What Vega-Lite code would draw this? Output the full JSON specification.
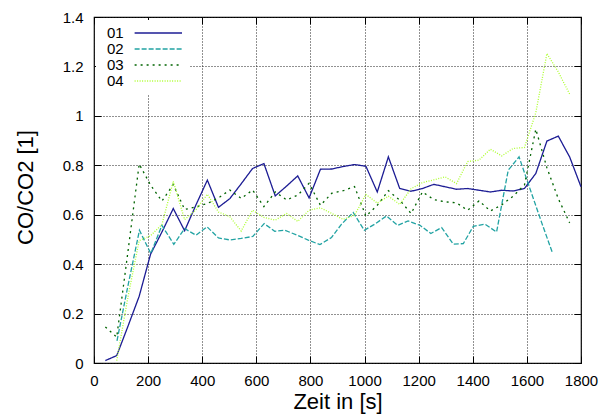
{
  "$schema": "https://vega.github.io/schema/vega-lite/v6.json",
  "width": 487,
  "height": 346,
  "autosize": {"type": "none"},
  "padding": {"left": 94, "top": 17, "right": 21, "bottom": 52},
  "background": "white",
  "config": {
    "font": "Liberation Sans",
    "view": {"stroke": "#000", "strokeWidth": 1.2},
    "axis": {
      "domain": false,
      "tickColor": "#000",
      "tickWidth": 1,
      "tickSize": -7,
      "labelFont": "Liberation Sans",
      "labelFontSize": 15,
      "labelColor": "#000",
      "labelFlush": false,
      "labelOverlap": false,
      "titleFont": "Liberation Sans",
      "titleFontSize": 22,
      "titleFontWeight": "normal",
      "titleColor": "#000"
    }
  },
  "data": {
    "values": [
      {"s": "01", "t": 42, "v": 0.01}, {"s": "01", "t": 84, "v": 0.03}, {"s": "01", "t": 126, "v": 0.15}, {"s": "01", "t": 167, "v": 0.27},
      {"s": "01", "t": 209, "v": 0.44}, {"s": "01", "t": 251, "v": 0.53}, {"s": "01", "t": 293, "v": 0.625}, {"s": "01", "t": 335, "v": 0.535},
      {"s": "01", "t": 377, "v": 0.64}, {"s": "01", "t": 419, "v": 0.74}, {"s": "01", "t": 460, "v": 0.63}, {"s": "01", "t": 502, "v": 0.665},
      {"s": "01", "t": 544, "v": 0.725}, {"s": "01", "t": 586, "v": 0.787}, {"s": "01", "t": 628, "v": 0.807}, {"s": "01", "t": 670, "v": 0.676},
      {"s": "01", "t": 712, "v": 0.716}, {"s": "01", "t": 753, "v": 0.757}, {"s": "01", "t": 795, "v": 0.668}, {"s": "01", "t": 837, "v": 0.784},
      {"s": "01", "t": 879, "v": 0.785}, {"s": "01", "t": 921, "v": 0.795}, {"s": "01", "t": 963, "v": 0.803}, {"s": "01", "t": 1005, "v": 0.796},
      {"s": "01", "t": 1047, "v": 0.692}, {"s": "01", "t": 1088, "v": 0.834}, {"s": "01", "t": 1130, "v": 0.706}, {"s": "01", "t": 1172, "v": 0.695},
      {"s": "01", "t": 1214, "v": 0.706}, {"s": "01", "t": 1256, "v": 0.723}, {"s": "01", "t": 1298, "v": 0.713}, {"s": "01", "t": 1340, "v": 0.703},
      {"s": "01", "t": 1381, "v": 0.706}, {"s": "01", "t": 1423, "v": 0.699}, {"s": "01", "t": 1465, "v": 0.692}, {"s": "01", "t": 1507, "v": 0.699},
      {"s": "01", "t": 1549, "v": 0.696}, {"s": "01", "t": 1591, "v": 0.706}, {"s": "01", "t": 1633, "v": 0.767}, {"s": "01", "t": 1674, "v": 0.898},
      {"s": "01", "t": 1716, "v": 0.918}, {"s": "01", "t": 1758, "v": 0.834}, {"s": "01", "t": 1800, "v": 0.713},

      {"s": "02", "t": 85, "v": 0.09}, {"s": "02", "t": 125, "v": 0.31}, {"s": "02", "t": 168, "v": 0.537}, {"s": "02", "t": 210, "v": 0.443},
      {"s": "02", "t": 251, "v": 0.557}, {"s": "02", "t": 295, "v": 0.48}, {"s": "02", "t": 335, "v": 0.544}, {"s": "02", "t": 377, "v": 0.517},
      {"s": "02", "t": 418, "v": 0.551}, {"s": "02", "t": 460, "v": 0.506}, {"s": "02", "t": 502, "v": 0.498}, {"s": "02", "t": 544, "v": 0.504},
      {"s": "02", "t": 587, "v": 0.512}, {"s": "02", "t": 629, "v": 0.564}, {"s": "02", "t": 668, "v": 0.533}, {"s": "02", "t": 705, "v": 0.537},
      {"s": "02", "t": 752, "v": 0.517}, {"s": "02", "t": 792, "v": 0.497}, {"s": "02", "t": 835, "v": 0.479}, {"s": "02", "t": 878, "v": 0.508},
      {"s": "02", "t": 915, "v": 0.562}, {"s": "02", "t": 958, "v": 0.609}, {"s": "02", "t": 999, "v": 0.537}, {"s": "02", "t": 1038, "v": 0.562},
      {"s": "02", "t": 1081, "v": 0.595}, {"s": "02", "t": 1122, "v": 0.557}, {"s": "02", "t": 1161, "v": 0.575}, {"s": "02", "t": 1205, "v": 0.557},
      {"s": "02", "t": 1245, "v": 0.524}, {"s": "02", "t": 1285, "v": 0.548}, {"s": "02", "t": 1328, "v": 0.481}, {"s": "02", "t": 1365, "v": 0.483},
      {"s": "02", "t": 1402, "v": 0.553}, {"s": "02", "t": 1445, "v": 0.562}, {"s": "02", "t": 1488, "v": 0.53}, {"s": "02", "t": 1531, "v": 0.78},
      {"s": "02", "t": 1571, "v": 0.834}, {"s": "02", "t": 1613, "v": 0.70}, {"s": "02", "t": 1654, "v": 0.57}, {"s": "02", "t": 1694, "v": 0.447},

      {"s": "03", "t": 42, "v": 0.146}, {"s": "03", "t": 84, "v": 0.105}, {"s": "03", "t": 126, "v": 0.455}, {"s": "03", "t": 167, "v": 0.805},
      {"s": "03", "t": 209, "v": 0.72}, {"s": "03", "t": 251, "v": 0.655}, {"s": "03", "t": 293, "v": 0.722}, {"s": "03", "t": 335, "v": 0.621},
      {"s": "03", "t": 377, "v": 0.632}, {"s": "03", "t": 419, "v": 0.645}, {"s": "03", "t": 460, "v": 0.668}, {"s": "03", "t": 502, "v": 0.70},
      {"s": "03", "t": 544, "v": 0.666}, {"s": "03", "t": 586, "v": 0.70}, {"s": "03", "t": 628, "v": 0.633}, {"s": "03", "t": 670, "v": 0.692},
      {"s": "03", "t": 712, "v": 0.66}, {"s": "03", "t": 753, "v": 0.679}, {"s": "03", "t": 795, "v": 0.727}, {"s": "03", "t": 837, "v": 0.638},
      {"s": "03", "t": 879, "v": 0.687}, {"s": "03", "t": 921, "v": 0.697}, {"s": "03", "t": 963, "v": 0.714}, {"s": "03", "t": 1005, "v": 0.594},
      {"s": "03", "t": 1047, "v": 0.638}, {"s": "03", "t": 1088, "v": 0.697}, {"s": "03", "t": 1130, "v": 0.659}, {"s": "03", "t": 1172, "v": 0.605},
      {"s": "03", "t": 1214, "v": 0.692}, {"s": "03", "t": 1256, "v": 0.661}, {"s": "03", "t": 1298, "v": 0.652}, {"s": "03", "t": 1340, "v": 0.648},
      {"s": "03", "t": 1381, "v": 0.618}, {"s": "03", "t": 1423, "v": 0.656}, {"s": "03", "t": 1465, "v": 0.615}, {"s": "03", "t": 1507, "v": 0.64},
      {"s": "03", "t": 1549, "v": 0.675}, {"s": "03", "t": 1591, "v": 0.72}, {"s": "03", "t": 1633, "v": 0.946}, {"s": "03", "t": 1674, "v": 0.79},
      {"s": "03", "t": 1716, "v": 0.665}, {"s": "03", "t": 1758, "v": 0.567},

      {"s": "04", "t": 84, "v": 0.01}, {"s": "04", "t": 126, "v": 0.27}, {"s": "04", "t": 167, "v": 0.495}, {"s": "04", "t": 209, "v": 0.515},
      {"s": "04", "t": 251, "v": 0.56}, {"s": "04", "t": 293, "v": 0.735}, {"s": "04", "t": 335, "v": 0.58}, {"s": "04", "t": 377, "v": 0.62},
      {"s": "04", "t": 419, "v": 0.683}, {"s": "04", "t": 460, "v": 0.611}, {"s": "04", "t": 502, "v": 0.592}, {"s": "04", "t": 544, "v": 0.534},
      {"s": "04", "t": 586, "v": 0.618}, {"s": "04", "t": 628, "v": 0.589}, {"s": "04", "t": 670, "v": 0.578}, {"s": "04", "t": 712, "v": 0.605},
      {"s": "04", "t": 753, "v": 0.573}, {"s": "04", "t": 795, "v": 0.618}, {"s": "04", "t": 837, "v": 0.628}, {"s": "04", "t": 879, "v": 0.605},
      {"s": "04", "t": 921, "v": 0.581}, {"s": "04", "t": 963, "v": 0.598}, {"s": "04", "t": 1005, "v": 0.682}, {"s": "04", "t": 1047, "v": 0.647},
      {"s": "04", "t": 1088, "v": 0.675}, {"s": "04", "t": 1130, "v": 0.642}, {"s": "04", "t": 1172, "v": 0.705}, {"s": "04", "t": 1214, "v": 0.73},
      {"s": "04", "t": 1256, "v": 0.741}, {"s": "04", "t": 1298, "v": 0.753}, {"s": "04", "t": 1340, "v": 0.726}, {"s": "04", "t": 1381, "v": 0.815},
      {"s": "04", "t": 1423, "v": 0.821}, {"s": "04", "t": 1465, "v": 0.865}, {"s": "04", "t": 1507, "v": 0.838}, {"s": "04", "t": 1549, "v": 0.868},
      {"s": "04", "t": 1591, "v": 0.872}, {"s": "04", "t": 1633, "v": 1.013}, {"s": "04", "t": 1674, "v": 1.252}, {"s": "04", "t": 1716, "v": 1.178},
      {"s": "04", "t": 1758, "v": 1.088}
    ]
  },
  "layer": [
    {
      "mark": {"type": "line", "strokeWidth": 1.3},
      "encoding": {
        "x": {
          "field": "t", "type": "quantitative",
          "scale": {"domain": [0, 1800], "nice": false, "zero": false},
          "axis": {
            "orient": "bottom",
            "values": [0, 200, 400, 600, 800, 1000, 1200, 1400, 1600, 1800],
            "format": "d",
            "labelPadding": 17,
            "grid": true, "gridColor": "#222", "gridDash": [1, 2], "gridWidth": 1,
            "title": "Zeit in [s]",
            "titleBaseline": "alphabetic",
            "titleY": 45
          }
        },
        "y": {
          "field": "v", "type": "quantitative",
          "scale": {"domain": [0, 1.4], "nice": false, "zero": false},
          "axis": {
            "orient": "left",
            "values": [0, 0.2, 0.4, 0.6, 0.8, 1, 1.2, 1.4],
            "format": ".1~f",
            "labelPadding": 18,
            "grid": true, "gridColor": "#222", "gridDash": [1, 2], "gridWidth": 1,
            "title": "CO/CO2 [1]",
            "titleAngle": 270,
            "titleAlign": "center",
            "titleBaseline": "alphabetic",
            "titleX": -62,
            "titleY": 170
          }
        },
        "color": {
          "field": "s", "type": "nominal",
          "scale": {"domain": ["01", "02", "03", "04"], "range": ["#1c1c94", "#22a3a3", "#006400", "#adff2f"]},
          "legend": {
            "orient": "none", "legendX": 2, "legendY": 3, "direction": "vertical", "title": null,
            "symbolType": "M3.66,0H10.43", "symbolSize": 196, "symbolStrokeWidth": 1.3,
            "labelAlign": "left", "labelOffset": -10, "labelFontSize": 15, "labelFont": "Liberation Sans", "labelColor": "#000",
            "fillColor": "white", "padding": 5, "rowPadding": 0
          }
        },
        "strokeDash": {
          "field": "s", "type": "nominal",
          "scale": {"domain": ["01", "02", "03", "04"], "range": [[1, 0], [5, 2], [2, 4], [1, 1.5]]},
          "legend": {
            "orient": "none", "legendX": 2, "legendY": 3, "direction": "vertical", "title": null,
            "symbolType": "M3.66,0H10.43", "symbolSize": 196, "symbolStrokeWidth": 1.3,
            "labelAlign": "left", "labelOffset": -10, "labelFontSize": 15, "labelFont": "Liberation Sans", "labelColor": "#000",
            "fillColor": "white", "padding": 5, "rowPadding": 0
          }
        }
      }
    },
    {
      "mark": {"type": "point", "opacity": 0},
      "encoding": {
        "x": {
          "field": "t", "type": "quantitative",
          "axis": {"orient": "top", "values": [0, 200, 400, 600, 800, 1000, 1200, 1400, 1600, 1800], "labels": false, "grid": false, "title": null}
        },
        "y": {
          "field": "v", "type": "quantitative",
          "axis": {"orient": "right", "values": [0, 0.2, 0.4, 0.6, 0.8, 1, 1.2, 1.4], "labels": false, "grid": false, "title": null}
        }
      }
    }
  ],
  "resolve": {"axis": {"x": "independent", "y": "independent"}}
}
